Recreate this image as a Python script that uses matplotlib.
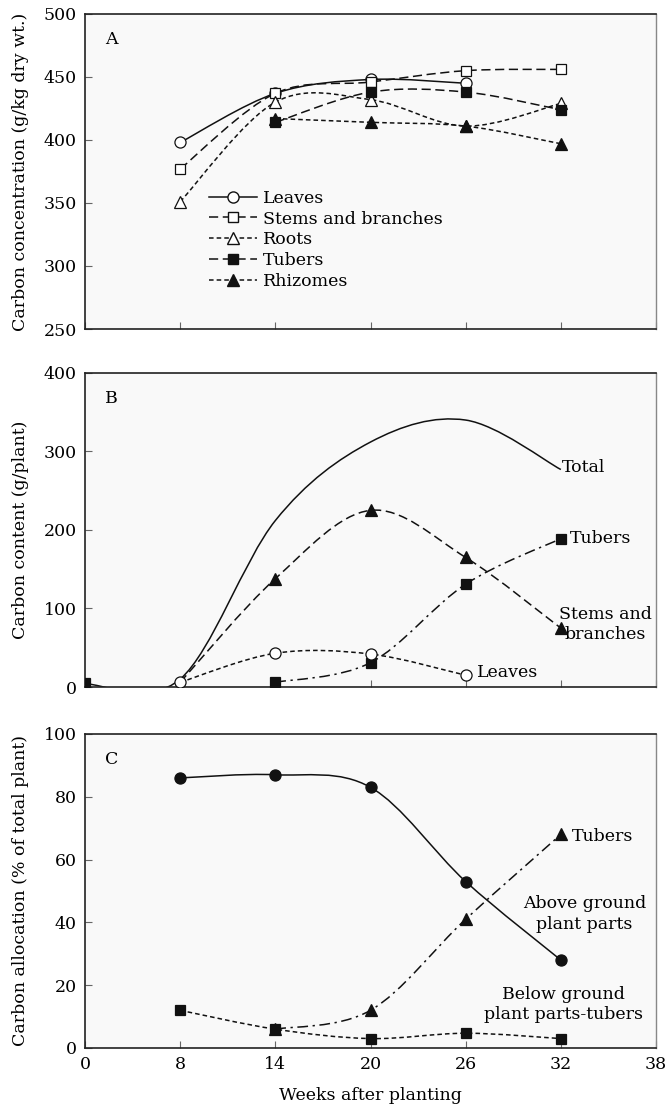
import numpy as np
import matplotlib.pyplot as plt
from matplotlib.path import Path
from matplotlib.patches import PathPatch
from matplotlib.lines import Line2D


# -----------------------------
# DATA
# -----------------------------

tick_weeks = [0, 8, 14, 20, 26, 32, 38]

# A - carbon concentration (g/kg dry wt.)
conc_leaves_weeks = [8, 14, 20, 26]
conc_leaves = [398, 437, 448, 445]
conc_stems_weeks = [8, 14, 20, 26, 32]
conc_stems = [377, 437, 446, 455, 456]
conc_roots_weeks = [8, 14, 20, 26, 32]
conc_roots = [351, 430, 432, 411, 429]
conc_tubers_weeks = [14, 20, 26, 32]
conc_tubers = [414, 438, 438, 424]
conc_rhizomes_weeks = [14, 20, 26, 32]
conc_rhizomes = [417, 414, 411, 397]

# B - carbon content (g/plant)
cont_total_weeks = [0, 8, 14, 20, 26, 32]
cont_total = [4, 10, 212, 312, 340, 277]
cont_stems_weeks = [8, 14, 20, 26, 32]
cont_stems = [6, 138, 225, 165, 75]
cont_tubers_weeks = [0, 14, 20, 26, 32]
cont_tubers = [5, 6, 31, 131, 189]
cont_leaves_weeks = [8, 14, 20, 26]
cont_leaves = [6, 43, 42, 15]

# C - carbon allocation (% of total plant)
alloc_above_weeks = [8, 14, 20, 26, 32]
alloc_above = [86, 87, 83, 53, 28]
alloc_tubers_weeks = [14, 20, 26, 32]
alloc_tubers = [6, 12, 41, 68]
alloc_below_weeks = [8, 14, 20, 26, 32]
alloc_below = [12, 6, 3, 4.7, 3]


# -----------------------------
# STYLE
# -----------------------------

plt.rcParams["font.family"] = ["DejaVu Serif"]
plt.rcParams["font.size"] = 12.5

LW = 1.1
LONG = (0, (6, 3))
SHORT = (0, (3, 2))
DASHDOT = (0, (7, 3, 1.5, 3))


def pos(weeks):
    # the week axis is drawn with evenly spaced ticks
    return np.interp(weeks, tick_weeks, np.arange(len(tick_weeks)))


def smooth_line(ax, weeks, values, ls):
    # Catmull-Rom curve through the points, drawn as cubic Bezier segments
    pts = np.column_stack([pos(weeks), values]).astype(float)
    ext = np.vstack([pts[0], pts, pts[-1]])
    verts = [pts[0]]
    codes = [Path.MOVETO]
    for i in range(len(pts) - 1):
        p0, p1, p2, p3 = ext[i], ext[i + 1], ext[i + 2], ext[i + 3]
        verts += [p1 + (p2 - p0) / 6, p2 - (p3 - p1) / 6, p2]
        codes += [Path.CURVE4] * 3
    patch = PathPatch(Path(verts, codes), facecolor="none",
                      edgecolor="#111111", lw=LW, linestyle=ls,
                      capstyle="butt", zorder=2)
    ax.add_patch(patch)


def markers(ax, weeks, values, marker, filled, ms=8):
    ax.plot(pos(weeks), values, linestyle="none", marker=marker,
            ms=ms, mec="#111111", mew=0.9,
            mfc="#111111" if filled else "white", zorder=3)


def style_axes(ax, ylim, letter, ylabel, show_x=False):
    ax.set_facecolor("#f9f9f9")
    ax.set_xlim(0, 6)
    ax.set_ylim(*ylim)
    ax.set_xticks(np.arange(len(tick_weeks)))
    ax.set_xticklabels([str(w) for w in tick_weeks] if show_x else [])
    ax.tick_params(direction="in", length=5, width=0.8, color="#666666",
                   pad=6, labelsize=12.5)
    for side in ["left", "top", "bottom"]:
        ax.spines[side].set_color("#222222")
        ax.spines[side].set_linewidth(1.2)
    ax.spines["right"].set_color("#888888")
    ax.spines["right"].set_linewidth(1.0)
    ax.text(0.047, 0.92, letter, transform=ax.transAxes,
            ha="center", va="center", fontsize=12.5)
    ax.set_ylabel(ylabel)
    ax.yaxis.set_label_coords(-0.098, 0.5)


fig = plt.figure(figsize=(6.65, 11.07), dpi=100)

ax_a = fig.add_axes([0.1278, 0.7028, 0.8587, 0.2846])
ax_b = fig.add_axes([0.1278, 0.3794, 0.8587, 0.2837])
ax_c = fig.add_axes([0.1278, 0.0533, 0.8587, 0.2837])


# -----------------------------
# A - CARBON CONCENTRATION
# -----------------------------

style_axes(ax_a, (250, 500), "A", "Carbon concentration (g/kg dry wt.)")
ax_a.set_yticks([250, 300, 350, 400, 450, 500])

smooth_line(ax_a, conc_leaves_weeks, conc_leaves, "-")
smooth_line(ax_a, conc_stems_weeks, conc_stems, LONG)
smooth_line(ax_a, conc_roots_weeks, conc_roots, SHORT)
smooth_line(ax_a, conc_tubers_weeks, conc_tubers, LONG)
smooth_line(ax_a, conc_rhizomes_weeks, conc_rhizomes, SHORT)

markers(ax_a, conc_leaves_weeks, conc_leaves, "o", False)
markers(ax_a, conc_stems_weeks, conc_stems, "s", False, ms=7)
markers(ax_a, conc_roots_weeks, conc_roots, "^", False)
markers(ax_a, conc_tubers_weeks, conc_tubers, "s", True, ms=7)
markers(ax_a, conc_rhizomes_weeks, conc_rhizomes, "^", True)

handles = [
    Line2D([], [], color="#111111", lw=LW, ls="-", marker="o",
           mfc="white", mec="#111111", ms=8),
    Line2D([], [], color="#111111", lw=LW, ls=LONG, marker="s",
           mfc="white", mec="#111111", ms=7),
    Line2D([], [], color="#111111", lw=LW, ls=SHORT, marker="^",
           mfc="white", mec="#111111", ms=8),
    Line2D([], [], color="#111111", lw=LW, ls=LONG, marker="s",
           mfc="#111111", mec="#111111", ms=7),
    Line2D([], [], color="#111111", lw=LW, ls=SHORT, marker="^",
           mfc="#111111", mec="#111111", ms=8),
]
labels = ["Leaves", "Stems and branches", "Roots", "Tubers", "Rhizomes"]

ax_a.legend(handles, labels, loc="upper left",
            bbox_to_anchor=(0.217, 0.442), frameon=False,
            borderpad=0, borderaxespad=0, handlelength=2.75,
            handletextpad=0.35, labelspacing=0.22, numpoints=1,
            fontsize=12.5)


# -----------------------------
# B - CARBON CONTENT
# -----------------------------

style_axes(ax_b, (0, 400), "B", "Carbon content (g/plant)")
ax_b.set_yticks([0, 100, 200, 300, 400])

smooth_line(ax_b, cont_total_weeks, cont_total, "-")
smooth_line(ax_b, cont_stems_weeks, cont_stems, LONG)
smooth_line(ax_b, cont_tubers_weeks[1:], cont_tubers[1:], DASHDOT)
smooth_line(ax_b, cont_leaves_weeks, cont_leaves, SHORT)

markers(ax_b, cont_stems_weeks[1:], cont_stems[1:], "^", True)
markers(ax_b, cont_tubers_weeks, cont_tubers, "s", True, ms=7)
markers(ax_b, cont_leaves_weeks, cont_leaves, "o", False)

ax_b.text(5.01, 279, "Total", ha="left", va="center")
ax_b.text(5.09, 189, "Tubers", ha="left", va="center")
ax_b.text(5.47, 80, "Stems and\nbranches", ha="center", va="center",
          linespacing=1.25)
ax_b.text(4.12, 19, "Leaves", ha="left", va="center")


# -----------------------------
# C - CARBON ALLOCATION
# -----------------------------

style_axes(ax_c, (0, 100), "C", "Carbon allocation (% of total plant)",
           show_x=True)
ax_c.set_yticks([0, 20, 40, 60, 80, 100])
ax_c.set_xlabel("Weeks after planting", labelpad=10)

smooth_line(ax_c, alloc_above_weeks, alloc_above, "-")
smooth_line(ax_c, alloc_tubers_weeks, alloc_tubers, DASHDOT)
smooth_line(ax_c, alloc_below_weeks, alloc_below, SHORT)

markers(ax_c, alloc_above_weeks, alloc_above, "o", True)
markers(ax_c, alloc_tubers_weeks, alloc_tubers, "^", True)
markers(ax_c, alloc_below_weeks, alloc_below, "s", True, ms=7)

ax_c.text(5.12, 67.4, "Tubers", ha="left", va="center")
ax_c.text(5.25, 42.7, "Above ground\nplant parts", ha="center",
          va="center", linespacing=1.25)
ax_c.text(5.03, 13.9, "Below ground\nplant parts-tubers", ha="center",
          va="center", linespacing=1.25)


plt.savefig("out.png", dpi=100)
plt.close()
